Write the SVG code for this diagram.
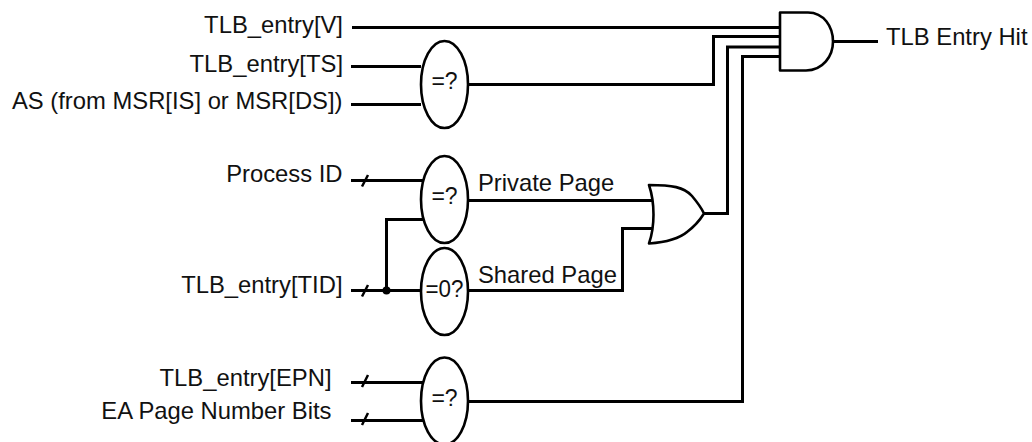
<svg xmlns="http://www.w3.org/2000/svg" width="1032" height="442" viewBox="0 0 1032 442">
<style>
.w{fill:none;stroke:#000;stroke-width:3}
.g{fill:#fff;stroke:#000;stroke-width:2.600;stroke-linejoin:round}
.s{fill:none;stroke:#000;stroke-width:2.500}
text{font-family:"Liberation Sans",Arial,sans-serif;font-size:23.800px;fill:#111}
.e{text-anchor:end}
.m{text-anchor:middle}
.c{font-size:23px}
</style>
<rect width="1032" height="442" fill="#fff"/>
<g id="connectors">
<path class="w" d="M352 27.500H780"/>
<path class="w" d="M468 84.500H713.500V36.500H780"/>
<path class="w" d="M704 213.500H727.500V47H780"/>
<path class="w" d="M468 401.500H742.500V56.500H780"/>
<path class="w" d="M833 41.500H878"/>
<path class="w" d="M351 66.500H421"/>
<path class="w" d="M351 104.500H421"/>
<path class="w" d="M351 180.500H423"/>
<path class="w" d="M351 290.500H421"/>
<path class="w" d="M386.500 290V219.500H423"/>
<path class="w" d="M468 200.500H652"/>
<path class="w" d="M468 290.500H622.500V228.500H652"/>
<path class="w" d="M351 382.500H423"/>
<path class="w" d="M351 420.500H423"/>
<path class="s" d="M362 186.500L368 175M362 296.500L368 285M362 387L368 375M362 425L368 413"/>
<circle cx="386.500" cy="290.500" r="4"/>
</g>
<g id="and-gate"><path class="g" d="M780 12.500H808C824 12.500 833 27 833 41.500C833 56 823 70.500 806 70.500H780Z"/></g>
<g id="or-gate"><path class="g" d="M649 185C672 185 684 187 692 196C697 202 701 207 704 213.500C700 220 695 226 687 232C680 238 668 242 649 243.500C655 226 655 203 649 185Z"/></g>
<g id="cmp-as"><ellipse class="g" cx="444.500" cy="84.500" rx="23.500" ry="43.500"/><text class="m c" x="444.500" y="89">=?</text></g>
<g id="cmp-pid"><ellipse class="g" cx="444.500" cy="199.500" rx="23.500" ry="43.500"/><text class="m c" x="444.500" y="204">=?</text></g>
<g id="cmp-zero"><ellipse class="g" cx="444.500" cy="291.500" rx="23.500" ry="43.500"/><text class="m c" x="444.500" y="297" textLength="38" lengthAdjust="spacingAndGlyphs">=0?</text></g>
<g id="cmp-epn"><ellipse class="g" cx="444.500" cy="401" rx="23.500" ry="43.500"/><text class="m c" x="444.500" y="406">=?</text></g>
<g id="labels">
<text class="e" x="343" y="33">TLB_entry[V]</text>
<text class="e" x="343" y="71.500">TLB_entry[TS]</text>
<text class="e" x="342.500" y="109">AS (from MSR[IS] or MSR[DS])</text>
<text class="e" x="342.500" y="182">Process ID</text>
<text class="e" x="342.500" y="293">TLB_entry[TID]</text>
<text class="e" x="331.500" y="386">TLB_entry[EPN]</text>
<text class="e" x="331.500" y="419">EA Page Number Bits</text>
<text x="478" y="191">Private Page</text>
<text x="478" y="283">Shared Page</text>
<text x="886" y="45">TLB Entry Hit</text>
</g>
</svg>
